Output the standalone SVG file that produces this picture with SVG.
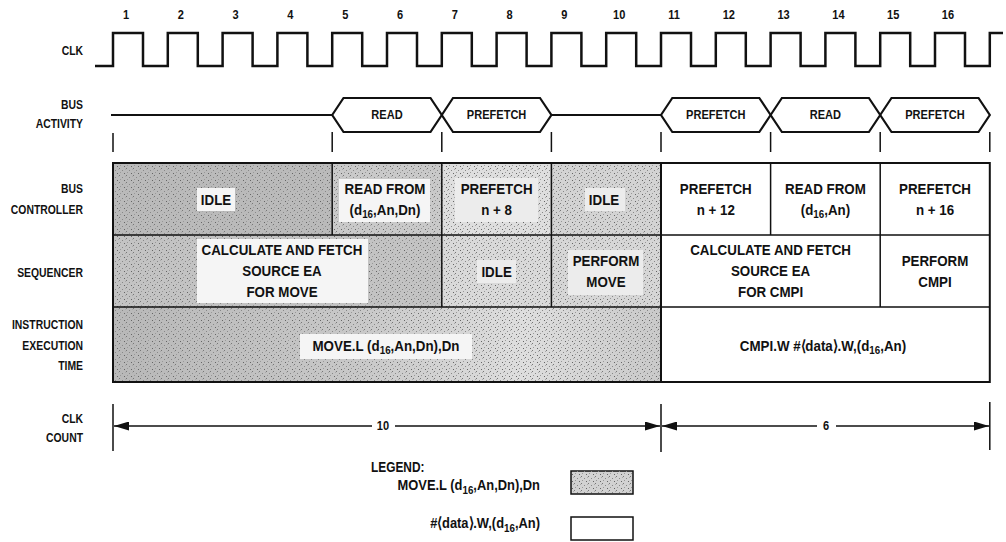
<svg xmlns="http://www.w3.org/2000/svg" width="1006" height="542" viewBox="0 0 1006 542">
<style>
text{font-family:"Liberation Sans",Arial,sans-serif;font-weight:bold;fill:#111}
.lbl{font-size:13px;text-anchor:end}
.num{font-size:13px;text-anchor:middle;dominant-baseline:central}
.c{font-size:15px;text-anchor:middle;dominant-baseline:central}
.leg{font-size:14.5px}
.sub{font-size:11px}
.wave{fill:none;stroke:#111;stroke-width:2.5}
.hex{fill:none;stroke:#111;stroke-width:2.2;stroke-linejoin:miter}
.tick{stroke:#111;stroke-width:1.5}
.grid{fill:none;stroke:#111;stroke-width:2}
.sep{stroke:#111;stroke-width:1.5}
.lab{fill:#f5f5f5}
.dim{stroke:#111;stroke-width:1.6;fill:none}
.stip{fill:url(#dots)}
</style>
<defs>
<pattern id="dots" width="7" height="7" patternUnits="userSpaceOnUse">
<rect x="0" y="0" width="1" height="1" fill="#777"/>
<rect x="3" y="2" width="1" height="1" fill="#888"/>
<rect x="5" y="5" width="1" height="1" fill="#666"/>
<rect x="1" y="4" width="1" height="1" fill="#999"/>
<rect x="6" y="1" width="1" height="1" fill="#aaa"/>
</pattern>
<linearGradient id="g3" x1="113" y1="0" x2="661" y2="0" gradientUnits="userSpaceOnUse">
<stop offset="0" stop-color="#b8b8b8"/>
<stop offset="0.45" stop-color="#c8c8c8"/>
<stop offset="0.75" stop-color="#dedede"/>
<stop offset="1" stop-color="#c9c9c9"/>
</linearGradient>
<marker id="ah" markerWidth="15" markerHeight="9" refX="15" refY="4.5" orient="auto" markerUnits="userSpaceOnUse">
<path d="M0,0 L15,4.5 L0,9 z" fill="#111"/>
</marker>
</defs>
<rect width="1006" height="542" fill="#fff"/>

<g id="row-labels">
<text class="lbl" transform="translate(83,55) scale(0.8,1)">CLK</text>
<text class="lbl" transform="translate(83,109) scale(0.8,1)">BUS</text>
<text class="lbl" transform="translate(83,128) scale(0.8,1)">ACTIVITY</text>
<text class="lbl" transform="translate(83,193) scale(0.8,1)">BUS</text>
<text class="lbl" transform="translate(83,214) scale(0.8,1)">CONTROLLER</text>
<text class="lbl" transform="translate(83,277) scale(0.8,1)">SEQUENCER</text>
<text class="lbl" transform="translate(83,329) scale(0.8,1)">INSTRUCTION</text>
<text class="lbl" transform="translate(83,350) scale(0.8,1)">EXECUTION</text>
<text class="lbl" transform="translate(83,370) scale(0.8,1)">TIME</text>
<text class="lbl" transform="translate(83,423) scale(0.8,1)">CLK</text>
<text class="lbl" transform="translate(83,442) scale(0.8,1)">COUNT</text>
</g>

<g id="clock">
<g id="clock-numbers">
<text class="num" transform="translate(126,15) scale(0.85,1)">1</text>
<text class="num" transform="translate(180.8,15) scale(0.85,1)">2</text>
<text class="num" transform="translate(235.6,15) scale(0.85,1)">3</text>
<text class="num" transform="translate(290.4,15) scale(0.85,1)">4</text>
<text class="num" transform="translate(345.2,15) scale(0.85,1)">5</text>
<text class="num" transform="translate(400,15) scale(0.85,1)">6</text>
<text class="num" transform="translate(454.8,15) scale(0.85,1)">7</text>
<text class="num" transform="translate(509.6,15) scale(0.85,1)">8</text>
<text class="num" transform="translate(564.4,15) scale(0.85,1)">9</text>
<text class="num" transform="translate(619.2,15) scale(0.85,1)">10</text>
<text class="num" transform="translate(674,15) scale(0.85,1)">11</text>
<text class="num" transform="translate(728.8,15) scale(0.85,1)">12</text>
<text class="num" transform="translate(783.6,15) scale(0.85,1)">13</text>
<text class="num" transform="translate(838.4,15) scale(0.85,1)">14</text>
<text class="num" transform="translate(893.2,15) scale(0.85,1)">15</text>
<text class="num" transform="translate(948,15) scale(0.85,1)">16</text>
</g>
<path class="wave" d="M95,66 H113 V33 H143 V66 H167.8 V33 H197.8 V66 H222.6 V33 H252.6 V66 H277.4 V33 H307.4 V66 H332.2 V33 H362.2 V66 H387 V33 H417 V66 H441.8 V33 H471.8 V66 H496.6 V33 H526.6 V66 H551.4 V33 H581.4 V66 H606.2 V33 H636.2 V66 H661 V33 H691 V66 H715.8 V33 H745.8 V66 H770.6 V33 H800.6 V66 H825.4 V33 H855.4 V66 H880.2 V33 H910.2 V66 H935 V33 H965 V66 H989.8 V33 H1003"/>
</g>

<g id="bus-activity">
<path class="hex" d="M111,115 H332.2 M551.4,115 H661"/>
<g id="bus-read-1"><polygon class="hex" points="332.2,115 343.5,98 430.5,98 441.8,115 430.5,132 343.5,132"/><text class="num" transform="translate(387,115) scale(0.85,1)">READ</text></g>
<g id="bus-prefetch-1"><polygon class="hex" points="441.8,115 453,98 540,98 551.4,115 540,132 453,132"/><text class="num" transform="translate(496.6,115) scale(0.85,1)">PREFETCH</text></g>
<g id="bus-prefetch-2"><polygon class="hex" points="661,115 672.3,98 759.3,98 770.6,115 759.3,132 672.3,132"/><text class="num" transform="translate(715.8,115) scale(0.85,1)">PREFETCH</text></g>
<g id="bus-read-2"><polygon class="hex" points="770.6,115 781.9,98 868.9,98 880.2,115 868.9,132 781.9,132"/><text class="num" transform="translate(825.4,115) scale(0.85,1)">READ</text></g>
<g id="bus-prefetch-3"><polygon class="hex" points="880.2,115 891.5,98 978.5,98 989.8,115 978.5,132 891.5,132"/><text class="num" transform="translate(935,115) scale(0.85,1)">PREFETCH</text></g>
<path class="tick" d="M113,133 V152 M332.2,132 V152 M441.8,132 V152 M551.4,132 V152 M661,132 V152 M770.6,132 V152 M880.2,132 V152 M989.8,132 V152"/>
</g>

<g id="shading">
<rect x="113" y="163" width="219.2" height="72" fill="#bababa"/>
<rect x="332.2" y="163" width="109.6" height="72" fill="#c9c9c9"/>
<rect x="441.8" y="163" width="109.6" height="72" fill="#dedede"/>
<rect x="551.4" y="163" width="109.6" height="72" fill="#d3d3d3"/>
<rect x="113" y="235" width="328.8" height="72" fill="#c3c3c3"/>
<rect x="441.8" y="235" width="109.6" height="72" fill="#d9d9d9"/>
<rect x="551.4" y="235" width="109.6" height="72" fill="#d6d6d6"/>
<rect x="113" y="307" width="548" height="75" fill="url(#g3)"/>
<rect class="stip" x="113" y="163" width="548" height="219"/>
</g>

<g id="bus-controller">
<g id="bc-idle-1"><rect class="lab" x="197" y="188" width="38" height="23"/><text class="c" transform="translate(216,199.5) scale(0.89,1)">IDLE</text></g>
<g id="bc-read-from-1"><rect class="lab" x="339" y="179" width="91" height="43"/><text class="c" transform="translate(385,189) scale(0.89,1)">READ FROM</text><text class="c" transform="translate(385,210) scale(0.89,1)">(d<tspan class="sub" dy="4">16</tspan><tspan dy="-4">,An,Dn)</tspan></text></g>
<g id="bc-prefetch-1"><rect x="455" y="178" width="83" height="44" fill="#ececec"/><text class="c" transform="translate(496.6,189) scale(0.89,1)">PREFETCH</text><text class="c" transform="translate(496.6,210) scale(0.89,1)">n + 8</text></g>
<g id="bc-idle-2"><rect x="585" y="188" width="40" height="23" fill="#ececec"/><text class="c" transform="translate(604,199.5) scale(0.89,1)">IDLE</text></g>
<g id="bc-prefetch-2"><text class="c" transform="translate(715.8,189) scale(0.89,1)">PREFETCH</text><text class="c" transform="translate(715.8,210) scale(0.89,1)">n + 12</text></g>
<g id="bc-read-from-2"><text class="c" transform="translate(825.4,189) scale(0.89,1)">READ FROM</text><text class="c" transform="translate(825.4,210) scale(0.89,1)">(d<tspan class="sub" dy="4">16</tspan><tspan dy="-4">,An)</tspan></text></g>
<g id="bc-prefetch-3"><text class="c" transform="translate(935,189) scale(0.89,1)">PREFETCH</text><text class="c" transform="translate(935,210) scale(0.89,1)">n + 16</text></g>
</g>

<g id="sequencer">
<g id="seq-calc-move"><rect class="lab" x="197" y="239" width="171" height="64"/><text class="c" transform="translate(282,250) scale(0.89,1)">CALCULATE AND FETCH</text><text class="c" transform="translate(282,271) scale(0.89,1)">SOURCE EA</text><text class="c" transform="translate(282,292) scale(0.89,1)">FOR MOVE</text></g>
<g id="seq-idle"><rect x="477" y="260" width="39" height="23" fill="#ececec"/><text class="c" transform="translate(496.6,271.5) scale(0.89,1)">IDLE</text></g>
<g id="seq-perform-move"><rect x="568" y="250" width="75" height="45" fill="#ececec"/><text class="c" transform="translate(606,261) scale(0.89,1)">PERFORM</text><text class="c" transform="translate(606,282) scale(0.89,1)">MOVE</text></g>
<g id="seq-calc-cmpi"><text class="c" transform="translate(770.6,250) scale(0.89,1)">CALCULATE AND FETCH</text><text class="c" transform="translate(770.6,271) scale(0.89,1)">SOURCE EA</text><text class="c" transform="translate(770.6,292) scale(0.89,1)">FOR CMPI</text></g>
<g id="seq-perform-cmpi"><text class="c" transform="translate(935,261) scale(0.89,1)">PERFORM</text><text class="c" transform="translate(935,282) scale(0.89,1)">CMPI</text></g>
</g>

<g id="instruction">
<g id="ins-move"><rect class="lab" x="300" y="334" width="172" height="25"/><text class="c" transform="translate(386,345.5) scale(0.89,1)">MOVE.L (d<tspan class="sub" dy="4">16</tspan><tspan dy="-4">,An,Dn),Dn</tspan></text></g>
<g id="ins-cmpi"><text class="c" transform="translate(823,345.5) scale(0.89,1)">CMPI.W #⟨data⟩.W,(d<tspan class="sub" dy="4">16</tspan><tspan dy="-4">,An)</tspan></text></g>
</g>

<g id="grid-lines">
<path class="sep" d="M113,235 H989.8 M113,307 H989.8"/>
<path class="sep" d="M332.2,163 V235 M441.8,163 V307 M551.4,163 V307 M770.6,163 V235 M880.2,163 V307"/>
<path class="grid" d="M661,163 V382"/>
<rect class="grid" x="113" y="163" width="876.8" height="219"/>
</g>

<g id="connectors">
<path class="tick" d="M113,404 V451 M661,404 V452 M989.8,402 V450"/>
<path class="dim" d="M372,426 H114" marker-end="url(#ah)"/>
<path class="dim" d="M395,426 H660" marker-end="url(#ah)"/>
<path class="dim" d="M817,426 H662" marker-end="url(#ah)"/>
<path class="dim" d="M836,426 H989" marker-end="url(#ah)"/>
<text class="num" transform="translate(383,426) scale(0.85,1)">10</text>
<text class="num" transform="translate(826,426) scale(0.85,1)">6</text>
</g>

<g id="legend">
<text class="leg" transform="translate(371,472) scale(0.82,1)">LEGEND:</text>
<text class="leg" text-anchor="end" transform="translate(540,490) scale(0.89,1)">MOVE.L (d<tspan style="font-size:11px" dy="4">16</tspan><tspan dy="-4">,An,Dn),Dn</tspan></text>
<rect x="571" y="471" width="62" height="23" fill="#d2d2d2" stroke="#111" stroke-width="1.5"/>
<rect class="stip" x="571" y="471" width="62" height="23"/>
<text class="leg" text-anchor="end" transform="translate(540,528) scale(0.89,1)">#⟨data⟩.W,(d<tspan style="font-size:11px" dy="4">16</tspan><tspan dy="-4">,An)</tspan></text>
<rect x="571" y="517" width="62" height="23" fill="#fff" stroke="#111" stroke-width="1.5"/>
</g>
</svg>
